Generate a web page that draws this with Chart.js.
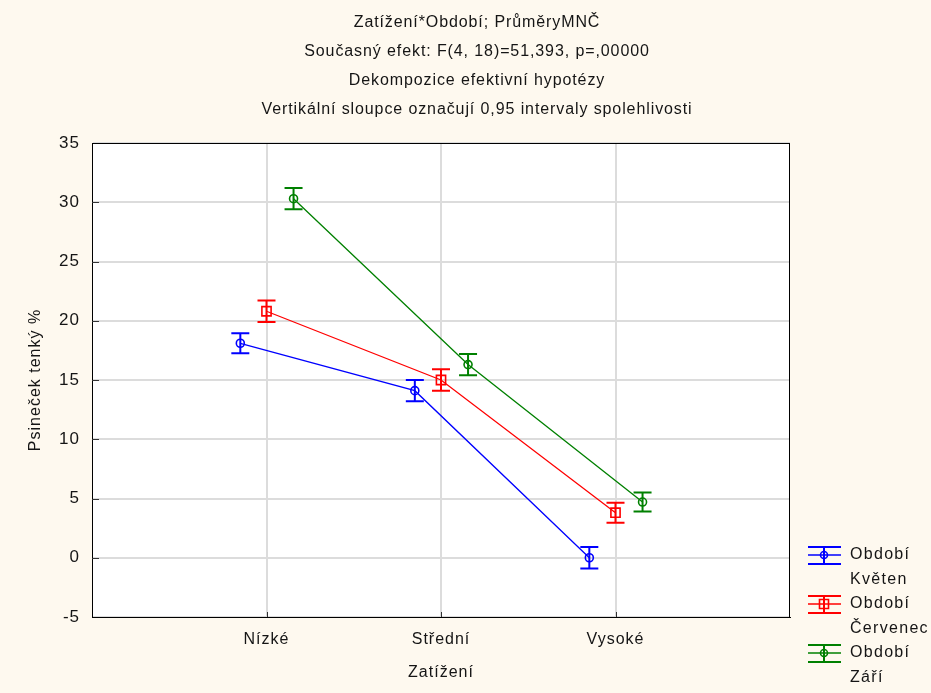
<!DOCTYPE html>
<html><head><meta charset="utf-8">
<script src="https://cdn.jsdelivr.net/npm/chart.js@4.4.0/dist/chart.umd.min.js"></script>
<style>html,body{margin:0;padding:0;background:#fef9ef;}#wrap{width:931px;height:693px;}</style>
</head><body><div id="wrap"><canvas id="c" width="931" height="693"></canvas></div>
<script>
const titleLines = [
  'Zatížení*Období; PrůměryMNČ',
  'Současný efekt: F(4, 18)=51,393, p=,00000',
  'Dekompozice efektivní hypotézy',
  'Vertikální sloupce označují 0,95 intervaly spolehlivosti'
];
const categories = ['Nízké', 'Střední', 'Vysoké'];
const xTitle = 'Zatížení';
const yTitle = 'Psineček tenký %';
const seriesNames = [['Období', 'Květen'], ['Období', 'Červenec'], ['Období', 'Září']];
const kveten = [18.1, 14.1, 0.0];
const kvetenCI = [0.85, 0.9, 0.9];
const cervenec = [20.8, 15.0, 3.8];
const cervenecCI = [0.9, 0.9, 0.85];
const zari = [30.3, 16.3, 4.7];
const zariCI = [0.9, 0.9, 0.8];
const yMin = -5, yMax = 35, yStep = 5;

const values = [kveten, cervenec, zari];
const cis = [kvetenCI, cervenecCI, zariCI];
const colors = ['#0000ff', '#ff0000', '#008000'];
const offsets = [-0.15, 0, 0.155];
const shapes = ['circle', 'rect', 'circle'];
const radii = [4, 6.5, 4];
const FONT = '"Liberation Sans", Arial, sans-serif';
const TXT = '#151515';

const datasets = values.map((vals, i) => ({
  label: seriesNames[i].join(' '),
  data: vals.map((v, j) => ({x: j + 1 + offsets[i], y: v})),
  borderColor: colors[i],
  backgroundColor: 'rgba(255,255,255,0)',
  borderWidth: 1.3,
  pointStyle: shapes[i],
  pointRadius: radii[i],
  pointBorderWidth: 1.6,
  pointBorderColor: colors[i],
  pointBackgroundColor: 'rgba(255,255,255,0)',
  tension: 0
}));

const bgPlugin = {
  id: 'bg',
  beforeDraw(chart) {
    const {ctx, chartArea: a} = chart;
    ctx.save();
    ctx.fillStyle = '#fef9ef';
    ctx.fillRect(0, 0, chart.width, chart.height);
    ctx.fillStyle = '#ffffff';
    ctx.fillRect(a.left, a.top, a.right - a.left, a.bottom - a.top);
    ctx.restore();
    ctx.letterSpacing = '1px';
  }
};

const decoPlugin = {
  id: 'deco',
  afterDatasetsDraw(chart) {
    const {ctx, scales: {x, y}} = chart;
    ctx.save();
    ctx.lineWidth = 2;
    values.forEach((vals, i) => {
      ctx.strokeStyle = colors[i];
      vals.forEach((v, j) => {
        const px = x.getPixelForValue(j + 1 + offsets[i]);
        const yh = y.getPixelForValue(v + cis[i][j]);
        const yl = y.getPixelForValue(v - cis[i][j]);
        ctx.beginPath();
        ctx.moveTo(px, yh); ctx.lineTo(px, yl);
        ctx.moveTo(px - 9, yh); ctx.lineTo(px + 9, yh);
        ctx.moveTo(px - 9, yl); ctx.lineTo(px + 9, yl);
        ctx.stroke();
      });
    });
    ctx.restore();
  },
  afterDraw(chart) {
    const {ctx, chartArea: a, scales: {x, y}} = chart;
    ctx.save();
    // frame
    ctx.strokeStyle = '#000';
    ctx.lineWidth = 1;
    ctx.strokeRect(a.left + 0.5, a.top + 0.5, a.right - a.left - 1, a.bottom - a.top);
    // inward ticks
    ctx.strokeStyle = '#333';
    ctx.beginPath();
    for (let v = yMin + yStep; v < yMax; v += yStep) {
      const py = Math.round(y.getPixelForValue(v)) + 0.5;
      ctx.moveTo(a.left, py); ctx.lineTo(a.left + 7, py);
    }
    categories.forEach((c, j) => {
      const px = Math.round(x.getPixelForValue(j + 1)) + 0.5;
      ctx.moveTo(px, a.bottom); ctx.lineTo(px, a.bottom - 5);
    });
    ctx.stroke();
    // title
    ctx.fillStyle = TXT;
    ctx.font = '16px ' + FONT;
    ctx.letterSpacing = '0.9px';
    ctx.textAlign = 'center';
    ctx.textBaseline = 'middle';
    titleLines.forEach((t, i) => ctx.fillText(t, 477, 23 + i * 29));
    // legend
    ctx.textAlign = 'left';
    ctx.letterSpacing = '1.3px';
    seriesNames.forEach((names, i) => {
      const cy = 555 + i * 49;
      const cx = 824;
      ctx.strokeStyle = colors[i];
      ctx.lineWidth = 2;
      ctx.beginPath();
      ctx.moveTo(808, cy - 8); ctx.lineTo(841, cy - 8);
      ctx.moveTo(808, cy + 9); ctx.lineTo(841, cy + 9);
      ctx.moveTo(cx, cy - 8); ctx.lineTo(cx, cy + 9);
      ctx.stroke();
      ctx.lineWidth = 1.3;
      ctx.beginPath();
      ctx.moveTo(808, cy); ctx.lineTo(841, cy);
      ctx.stroke();
      ctx.lineWidth = 1.6;
      ctx.beginPath();
      if (shapes[i] === 'rect') ctx.rect(cx - 4.5, cy - 4.5, 9, 9);
      else ctx.arc(cx, cy, 3.5, 0, Math.PI * 2);
      ctx.stroke();
      ctx.fillStyle = TXT;
      ctx.fillText(names[0], 850, cy);
      ctx.fillText(names[1], 850, cy + 25);
    });
    ctx.restore();
  }
};

new Chart(document.getElementById('c'), {
  type: 'line',
  data: {datasets},
  plugins: [bgPlugin, decoPlugin],
  options: {
    responsive: false,
    devicePixelRatio: 1,
    animation: false,
    layout: {padding: {top: 143, right: 141, left: 0, bottom: 0}},
    plugins: {legend: {display: false}, tooltip: {enabled: false}, title: {display: false}},
    scales: {
      x: {
        type: 'linear', min: 0, max: 4,
        afterBuildTicks: s => { s.ticks = categories.map((c, j) => ({value: j + 1})); },
        afterFit: s => { s.height = 76; },
        ticks: {callback: v => categories[v - 1] || '', font: {size: 16, family: FONT}, color: TXT, padding: 13, maxRotation: 0, autoSkip: false},
        grid: {color: '#dcdcdc', lineWidth: 2, drawTicks: false},
        border: {display: true, color: '#000', width: 1},
        title: {display: true, text: xTitle, font: {size: 16, family: FONT}, color: TXT, padding: {top: 0, bottom: 11}}
      },
      y: {
        min: yMin, max: yMax,
        afterFit: s => { s.width = 92; },
        ticks: {stepSize: yStep, font: {size: 17, family: FONT}, color: TXT, padding: 12},
        grid: {color: '#dcdcdc', lineWidth: 2, drawTicks: false},
        border: {display: true, color: '#000', width: 1},
        title: {display: true, text: yTitle, font: {size: 16, family: FONT}, color: TXT, padding: {top: 26, bottom: 0}}
      }
    }
  }
});
</script></body></html>
